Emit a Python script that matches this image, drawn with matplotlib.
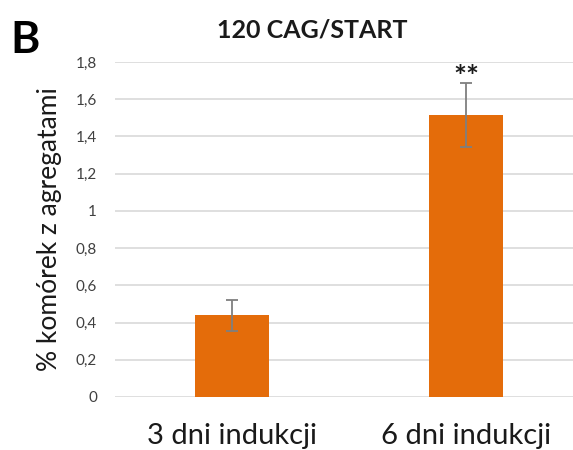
import matplotlib.pyplot as plt
import numpy as np

# aggregate-positive cells after induction
categories = ['3 dni indukcji', '6 dni indukcji']
values = [0.44, 1.515]
errors = [0.083, 0.172]
signif = ['', '**']
yticks = [0, 0.2, 0.4, 0.6, 0.8, 1.0, 1.2, 1.4, 1.6, 1.8]
ytick_labels = ['0', '0,2', '0,4', '0,6', '0,8', '1', '1,2', '1,4', '1,6', '1,8']

plt.rcParams['font.family'] = ['Lato', 'DejaVu Sans']

fig = plt.figure(figsize=(5.73, 4.5), dpi=100)
ax = fig.add_axes([115 / 573, 1 - 397 / 450, 458 / 573, 335 / 450])

x = np.arange(len(categories))
ax.bar(x, values, width=0.316, color='#E46C0A', zorder=2)
ax.errorbar(x, values, yerr=errors, fmt='none', ecolor='#7f7f7f',
            elinewidth=1.3, capsize=4, capthick=1.3, zorder=3)

for xi, v, e, s in zip(x, values, errors, signif):
    if s:
        ax.text(xi, v + e - 0.02, s, ha='center', va='baseline',
                fontsize=22, fontweight='bold', color='#1a1a1a')

ax.set_xlim(-0.5, 1.457)
ax.set_ylim(0, 1.8)
ax.set_yticks(yticks)
ax.set_yticklabels(ytick_labels, fontsize=11, color='#404040')
ax.set_xticks(x)
ax.set_xticklabels(categories, fontsize=21, color='#1a1a1a')
ax.tick_params(axis='y', length=0, pad=13)
ax.tick_params(axis='x', length=0, pad=19)
ax.yaxis.grid(True, color='#d9d9d9', linewidth=1.2, zorder=0)
ax.set_axisbelow(True)
for sp in ax.spines.values():
    sp.set_visible(False)

ax.set_ylabel('% komórek z agregatami', fontsize=19, color='#1a1a1a')
ax.yaxis.set_label_coords(-53 / 458, 0.5)

fig.text(312 / 573, 1 - 37 / 450, '120 CAG/START', ha='center', va='baseline',
         fontsize=18, fontweight='bold', color='#1a1a1a')
fig.text(10 / 573, 1 - 53 / 450, 'B', ha='left', va='baseline',
         fontsize=32, fontweight='bold', color='#000000')

fig.savefig('out.png', dpi=100)
